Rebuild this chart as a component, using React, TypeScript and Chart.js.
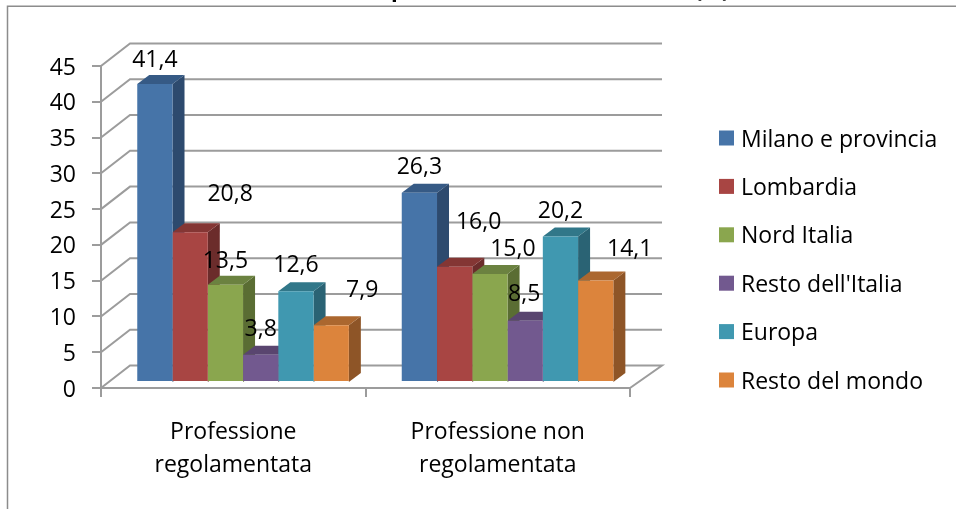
import React, { useEffect, useRef } from "react";
import { Chart, registerables } from "chart.js";

Chart.register(...registerables);

const categories = [["Professione", "regolamentata"], ["Professione non", "regolamentata"]];
const milano = [41.4, 26.3];
const lombardia = [20.8, 16.0];
const nordItalia = [13.5, 15.0];
const restoItalia = [3.8, 8.5];
const europa = [12.6, 20.2];
const restoMondo = [7.9, 14.1];
const titleHead = "p";
const titleTail = "(%)";

const FONT = "'Open Sans'";
const FS = 23;
const TEXT_DY = 2;
const series = [
  { label: "Milano e provincia", data: milano, front: "#4674A8", side: "#2D4A6E", top: "#365A85" },
  { label: "Lombardia", data: lombardia, front: "#A84543", side: "#6B2C2B", top: "#843634" },
  { label: "Nord Italia", data: nordItalia, front: "#8AA64E", side: "#5A6D33", top: "#6B8240" },
  { label: "Resto dell'Italia", data: restoItalia, front: "#72598F", side: "#49395C", top: "#59456F" },
  { label: "Europa", data: europa, front: "#4098B0", side: "#2A6374", top: "#317789" },
  { label: "Resto del mondo", data: restoMondo, front: "#DC843C", side: "#8E5527", top: "#AB672F" },
];
// label offsets from the top centre of each bar's front face, [dataset][category]
const labelNudge = [
  [[0, -26], [0, -27]],
  [[40, -40], [24, -46]],
  [[0, -25], [23, -27]],
  [[0, -27], [-1, -28]],
  [[0, -28], [0, -27]],
  [[31, -37], [34, -33]],
];

const GRID = "#9C9C9C";
const SHIFT_X = 9.8;
const SHIFT_Y = -6;
const STRETCH = 1.006;

const view = (bar: any, base: number) => {
  const top = base + (bar.y - base) * STRETCH + SHIFT_Y;
  const l = bar.x - bar.width / 2 + SHIFT_X;
  return { l, r: l + bar.width, top, bottom: base + SHIFT_Y };
};
const poly = (ctx: CanvasRenderingContext2D, c: string, pts: number[][]) => {
  ctx.fillStyle = c;
  ctx.beginPath();
  pts.forEach((p, i) => (i ? ctx.lineTo(p[0], p[1]) : ctx.moveTo(p[0], p[1])));
  ctx.closePath();
  ctx.fill();
};

const chart3d = {
  id: "chart3d",
  beforeDraw(chart: any) {
    const { ctx, width, height } = chart;
    ctx.save();
    ctx.fillStyle = "#fff";
    ctx.fillRect(0, 0, width, height);
    ctx.strokeStyle = "#8C8C8C";
    ctx.lineWidth = 1.5;
    ctx.beginPath();
    ctx.moveTo(7.5, height);
    ctx.lineTo(7.5, 6.25);
    ctx.lineTo(width, 6.25);
    ctx.stroke();
    ctx.fillStyle = "#000";
    ctx.font = `bold 22px ${FONT}`;
    ctx.textAlign = "center";
    ctx.textBaseline = "alphabetic";
    ctx.fillText(titleHead, 398, -3);
    ctx.fillText(titleTail, 712, -3);
    ctx.restore();
  },
  beforeDatasetsDraw(chart: any) {
    const { ctx, scales } = chart;
    const x = scales.x;
    const y = scales.y;
    ctx.save();
    ctx.strokeStyle = GRID;
    ctx.lineWidth = 2;
    ctx.fillStyle = "#000";
    ctx.font = `${FS}px ${FONT}`;
    ctx.textAlign = "right";
    ctx.textBaseline = "middle";
    y.ticks.forEach((t: any) => {
      const py = y.getPixelForValue(t.value);
      ctx.beginPath();
      ctx.moveTo(x.left, py);
      ctx.lineTo(x.left + 29, py - 22.5);
      ctx.lineTo(x.right + 32, py - 22.5);
      if (t.value === 0) ctx.lineTo(x.right, py);
      ctx.stroke();
      ctx.fillText(t.label, 76, py + TEXT_DY);
    });
    ctx.restore();
    const base = y.getPixelForValue(0);
    const d = 12;
    const e = 9;
    categories.forEach((_, c) => {
      series.forEach((s, i) => {
        const v = view(chart.getDatasetMeta(i).data[c], base);
        poly(ctx, s.side, [[v.r, v.top], [v.r + d, v.top - e], [v.r + d, v.bottom - e], [v.r, v.bottom]]);
        poly(ctx, s.top, [[v.l, v.top], [v.r, v.top], [v.r + d, v.top - e], [v.l + d, v.top - e]]);
      });
    });
    ctx.save();
    ctx.translate(SHIFT_X, base + SHIFT_Y);
    ctx.scale(1, STRETCH);
    ctx.translate(0, -base);
  },
  afterDatasetsDraw(chart: any) {
    const { ctx, scales } = chart;
    ctx.restore();
    const base = scales.y.getPixelForValue(0);
    ctx.save();
    ctx.fillStyle = "#000";
    ctx.font = `${FS}px ${FONT}`;
    ctx.textAlign = "center";
    ctx.textBaseline = "middle";
    series.forEach((s, i) => {
      s.data.forEach((val, c) => {
        const v = view(chart.getDatasetMeta(i).data[c], base);
        const [dx, dy] = labelNudge[i][c];
        ctx.fillText(val.toFixed(1).replace(".", ","), (v.l + v.r) / 2 + dx, v.top + dy + TEXT_DY);
      });
    });
    // legend
    ctx.textAlign = "left";
    series.forEach((s, i) => {
      const cy = 138 + i * 48.4;
      ctx.fillStyle = s.front;
      ctx.fillRect(719, cy - 7.5, 15, 15);
      ctx.fillStyle = "#000";
      ctx.fillText(s.label, 741, cy + TEXT_DY);
    });
    ctx.restore();
  },
};

export default function App() {
  const ref = useRef<HTMLCanvasElement>(null);
  useEffect(() => {
    const chart = new Chart(ref.current as HTMLCanvasElement, {
      type: "bar",
      data: {
        labels: categories,
        datasets: series.map((s) => ({
          label: s.label,
          data: s.data,
          backgroundColor: s.front,
          borderWidth: 0,
          clip: false as any,
          categoryPercentage: 0.8,
          barPercentage: 1,
        })),
      },
      options: {
        animation: false,
        responsive: false,
        devicePixelRatio: 1,
        events: [],
        layout: { padding: { top: 66, right: 326, left: 0, bottom: 0 } },
        plugins: { legend: { display: false }, title: { display: false }, tooltip: { enabled: false } },
        scales: {
          x: {
            afterFit: (s: any) => { s.height = 121; },
            grid: { drawOnChartArea: false, drawTicks: true, tickLength: 9, color: GRID, lineWidth: 2 },
            border: { display: true, color: GRID, width: 2 },
            ticks: { color: "#000", padding: 19, maxRotation: 0, font: { family: FONT, size: FS, lineHeight: 1.43 } },
          },
          y: {
            min: 0,
            max: 45,
            afterFit: (s: any) => { s.width = 101; },
            grid: { drawOnChartArea: false, drawTicks: true, tickLength: 9, color: GRID, lineWidth: 2 },
            border: { display: true, color: GRID, width: 2 },
            ticks: { stepSize: 5, color: "rgba(0,0,0,0)", padding: 17, font: { family: FONT, size: FS } },
          },
        },
      },
      plugins: [chart3d],
    } as any);
    return () => chart.destroy();
  }, []);
  return (
    <canvas
      ref={ref}
      width={956}
      height={509}
      style={{ position: "fixed", left: 0, top: 0, width: 956, height: 509, display: "block" }}
    />
  );
}
